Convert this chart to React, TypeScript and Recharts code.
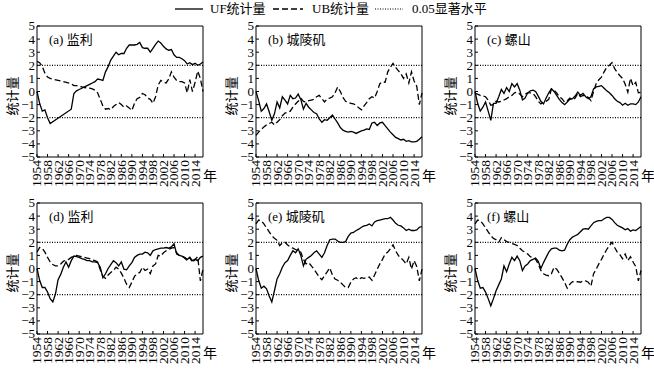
import { LineChart, Line, XAxis, YAxis, ReferenceLine, ReferenceArea } from "recharts";

const years = [
  1954, 1955, 1956, 1957, 1958, 1959, 1960, 1961,
  1962, 1963, 1964, 1965, 1966, 1967, 1968, 1969,
  1970, 1971, 1972, 1973, 1974, 1975, 1976, 1977,
  1978, 1979, 1980, 1981, 1982, 1983, 1984, 1985,
  1986, 1987, 1988, 1989, 1990, 1991, 1992, 1993,
  1994, 1995, 1996, 1997, 1998, 1999, 2000, 2001,
  2002, 2003, 2004, 2005, 2006, 2007, 2008, 2009,
  2010, 2011, 2012, 2013, 2014, 2015, 2016, 2017,
];
const yearTicks = [1954, 1958, 1962, 1966, 1970, 1974, 1978, 1982, 1986, 1990, 1994, 1998, 2002, 2006, 2010, 2014];
const valueTicks = [-5, -4, -3, -2, -1, 0, 1, 2, 3, 4, 5];

// (a) 监利 — no data 1960-1966
const ufA = [
  0, -0.9, -1.5, -1.4, -2.0, -2.45, null, null,
  null, null, null, null, null, -1.35, -0.15, 0.05,
  0.15, 0.25, 0.35, 0.45, 0.55, 0.65, 0.75, 0.95,
  0.9, 0.85, 1.5, 1.9, 2.4, 2.7, 3.0, 2.8,
  2.9, 2.9, 3.3, 3.55, 3.55, 3.55, 3.6, 3.75,
  3.35, 3.3, 3.3, 3.0, 3.3, 3.6, 3.85, 3.7,
  3.45, 3.25, 3.15, 3.2, 2.8, 2.6, 2.6, 2.5,
  2.35, 2.1, 2.2, 2.05, 2.15, 2.0, 2.1, 2.25,
];
const ubA = [
  2.3, 2.2, 1.9, 1.4, 1.1, 1.0, null, null,
  null, null, null, null, null, 0.6, 0.45, 0.45,
  0.4, 0.35, 0.3, 0.28, 0.25, 0.2, 0.1, -0.1,
  -0.6, -1.1, -1.35, -1.3, -1.4, -1.15, -1.0, -0.85,
  -1.0, -1.2, -1.1, -1.25, -1.45, -0.9, -0.55, -0.45,
  -0.15, -0.25, -0.5, -0.6, -0.9, -0.4, 0.5, 0.85,
  0.7, 0.65, 0.95, 1.5, 1.1, 0.85, 0.75, 0.75,
  0.65, -0.1, 0.9, 0.0, 0.7, 1.55, 1.0, 0.0,
];

// (b) 城陵矶
const ufB = [
  0, -0.7, -1.5, -1.3, -0.95, -1.55, -2.2, -1.7,
  -0.8, -1.25, -0.4, -0.65, -0.95, -0.3, -0.55, -0.5,
  -0.2, -0.6, -1.35, -0.9, -1.2, -1.4, -1.6, -1.7,
  -2.1, -2.35, -2.15, -2.2, -2.0, -1.8, -2.1, -2.4,
  -2.75, -2.95, -3.05, -3.1, -3.05, -3.1, -3.2, -3.1,
  -3.0, -2.95, -2.85, -2.9, -2.4, -2.35, -2.6, -2.4,
  -2.35, -2.6, -2.85, -3.1, -3.3, -3.5, -3.6, -3.7,
  -3.65, -3.8, -3.75, -3.85, -3.85, -3.8, -3.65, -3.45,
];
const ubB = [
  -3.35, -3.1, -2.9, -2.7, -2.55, -2.45, -2.35, -2.55,
  -2.35, -2.15, -1.85, -1.65, -1.6, -1.5, -1.2, -0.95,
  -0.75, -0.5, -0.75, -0.8, -0.7, -0.65, -0.6, -0.4,
  -0.3, -0.55, -0.8, -0.55, -0.5, -0.4, -0.1, 0.35,
  0.0, -0.45, -0.75, -0.85, -0.9, -0.95, -1.05, -1.25,
  -1.4, -1.1, -0.85, -0.55, -0.4, -0.5, 0.0, 0.6,
  0.75, 0.7, 1.5, 1.85, 2.15, 1.85, 1.6, 1.35,
  1.0, 1.35, 0.65, 1.5, 0.8, 0.4, -1.0, -0.1,
];

// (c) 螺山
const ufC = [
  0, -0.9, -1.5, -1.2, -0.8, -1.5, -2.2, -0.9,
  -0.9, -0.4, 0.15, -0.15, 0.3, 0.0, 0.6, 0.35,
  0.6, 0.1, -0.65, -0.5, -0.1, 0.05, 0.1, 0.0,
  -0.35, -0.75, -0.95, -0.5, -0.1, 0.2, 0.0, -0.3,
  -0.6, -0.85, -1.0, -0.8, -0.6, -0.55, -0.35, -0.05,
  -0.3, -0.15, -0.4, -0.55, -0.4, 0.2, 0.35, 0.4,
  0.45, 0.25, 0.05, -0.1, -0.3, -0.55, -0.75, -0.85,
  -1.05, -0.9, -1.05, -0.95, -0.95, -1.0, -0.8, -0.4,
];
const ubC = [
  -0.15, -0.2, -0.3, -0.35, -0.4, -0.65, -1.05, -1.0,
  -0.75, -0.8, -0.75, -0.65, -0.55, -0.4, -0.3, -0.1,
  -0.05, -0.2, -0.4, -0.2, -0.1, -0.1, -0.15, -0.4,
  -0.75, -0.95, -0.8, -0.75, -0.6, 0.2, 0.1, -0.1,
  -0.4, -0.55, -0.8, -0.7, -0.5, -0.65, -0.5, -0.15,
  -0.4, -0.3, -0.35, -0.45, -0.7, 0.0, 0.6, 0.9,
  1.1, 1.5, 1.85, 2.0, 2.2, 1.75, 1.45, 1.2,
  1.0, 0.55, -0.05, 1.0, 0.45, 0.7, -0.1, -0.05,
];

// (d) 监利
const ufD = [
  0, -0.9, -1.45, -1.45, -1.8, -2.3, -2.55, -1.95,
  -0.85, -0.45, 0.1, 0.5, 0.1, 0.6, 0.95, 0.9,
  0.85, 0.75, 0.7, 0.6, 0.6, 0.5, 0.5, 0.45,
  0.1, -0.7, -0.4, 0.0, 0.3, 0.6, 0.45, 0.2,
  0.5, -0.05, -0.1, 0.2, 0.45, 0.85, 1.0, 1.1,
  1.1, 1.25, 1.2, 1.0, 1.35, 1.45, 1.5, 1.55,
  1.55, 1.6, 1.55, 1.65, 1.9, 1.1, 1.0, 0.95,
  0.85, 0.7, 0.85, 0.6, 0.7, 0.6, 0.85, 0.95,
];
const ubD = [
  1.25, 1.6, 1.55, 1.25, 0.85, 0.5, 0.3, 0.2,
  0.2, 0.35, 0.55, 0.65, 0.7, 0.85, 0.95, 1.0,
  0.95, 0.9, 0.85, 0.8, 0.75, 0.65, 0.6, 0.5,
  -0.1, -0.6, -0.75, -0.5, -0.3, -0.15, 0.1, -0.05,
  -0.35, -0.75, -1.2, -1.45, -1.05, -0.6, -0.4, -0.3,
  0.1, -0.15, -0.05, -0.4, 0.2, 0.35, 1.0, 0.95,
  1.2, 1.35, 1.45, 1.55, 1.6, 1.2, 1.0, 0.95,
  0.8, 0.6, 0.85, 0.45, 0.7, 0.9, -0.95, -0.05,
];

// (e) 城陵矶
const ufE = [
  0, -0.9, -1.5, -1.35, -1.55, -2.1, -2.55, -1.7,
  -0.8, -0.4, 0.1, 0.45, 0.6, 1.0, 1.35, 1.2,
  1.5, 1.0, 0.2, 0.7, 0.85, 1.0, 1.2, 1.35,
  1.1, 0.85, 1.2, 1.75, 2.2, 2.25, 2.25, 2.1,
  2.0, 2.0, 2.05, 2.45, 2.7, 2.75, 2.9, 3.0,
  3.15, 3.25, 3.3, 3.4, 3.25, 3.55, 3.65, 3.7,
  3.75, 3.8, 3.8, 3.9, 3.7, 3.45, 3.3, 3.25,
  3.1, 2.9, 3.0, 2.9, 2.9, 2.95, 3.15, 3.2,
];
const ubE = [
  3.4, 3.7, 3.65, 3.4, 3.1, 2.8, 2.5, 2.3,
  2.15, 1.75, 1.95, 2.0, 1.8, 1.65, 1.55, 1.45,
  1.35, 1.25, 0.7, 0.35, 0.45, 0.2, -0.05, -0.35,
  -0.65, -0.85, -0.55, -0.25, 0.05, -0.5, -0.8, -0.9,
  -1.05, -1.25, -1.45, -1.45, -1.05, -0.8, -0.7, -0.85,
  -0.7, -0.75, -0.7, -0.65, -0.9, -0.5, -0.05, 0.35,
  0.7, 1.1, 1.25, 1.5, 1.8, 1.35, 1.0, 0.8,
  0.6, 0.35, 0.85, -0.05, 0.6, 0.15, -0.95, -0.05,
];

// (f) 螺山
const ufF = [
  0, -0.9, -1.5, -1.45, -1.8, -2.3, -2.85, -2.3,
  -1.7, -1.25, -0.8, 0.2, -0.25, 0.35, 0.85, 0.6,
  0.95, 0.6, -0.15, 0.2, 0.35, 0.6, 0.7, 0.8,
  0.55, 0.0, 0.45, 0.85, 1.25, 1.5, 1.55, 1.55,
  1.4, 1.35, 1.4, 1.85, 2.2, 2.4, 2.5, 2.6,
  2.8, 3.0, 3.05, 3.0, 3.25, 3.5, 3.6, 3.65,
  3.65, 3.8, 3.9, 3.9, 3.75, 3.5, 3.3, 3.2,
  3.1, 2.95, 3.05, 2.85, 2.95, 2.9, 3.05, 3.2,
];
const ubF = [
  3.4, 3.7, 3.65, 3.4, 3.1, 2.8, 2.5, 2.3,
  2.2, 2.0, 2.35, 2.2, 2.05, 2.0, 1.9, 1.85,
  1.75, 1.55, 1.35, 1.25, 1.1, 0.9, 0.85, 0.7,
  0.35, -0.15, -0.4, -0.5, -0.55, -0.4, 0.1, -0.05,
  -0.35, -0.7, -1.05, -1.5, -1.2, -1.0, -1.05, -1.0,
  -1.05, -0.95, -0.95, -1.05, -1.35, -0.4, -0.05, 0.35,
  0.7, 1.1, 1.45, 1.75, 2.0, 1.6, 1.25, 1.05,
  0.75, 1.1, 0.6, 0.9, 0.5, 0.15, -0.95, -0.15,
];

const FONT = "'Liberation Serif', 'Noto Sans CJK SC', serif";
const PW = 166; // plot width
const PH = 131; // plot height
const YW = 35;
const MT = 10;

const panels = [
  { title: "(a) 监利", uf: ufA, ub: ubA, left: 37, top: 26 },
  { title: "(b) 城陵矶", uf: ufB, ub: ubB, left: 256, top: 26 },
  { title: "(c) 螺山", uf: ufC, ub: ubC, left: 475, top: 26 },
  { title: "(d) 监利", uf: ufD, ub: ubD, left: 37, top: 203 },
  { title: "(e) 城陵矶", uf: ufE, ub: ubE, left: 256, top: 203 },
  { title: "(f) 螺山", uf: ufF, ub: ubF, left: 475, top: 203 },
];

function YearTick(props: any) {
  const { x, y, payload } = props;
  return (
    <g>
      <line x1={x} y1={y} x2={x} y2={y - 3} stroke="#000" />
      <text
        x={x}
        y={y + 3}
        transform={`rotate(-90 ${x} ${y + 3})`}
        textAnchor="end"
        dy="0.33em"
        fontSize={13.5}
        fontFamily={FONT}
        fill="#000"
      >
        {payload.value}
      </text>
    </g>
  );
}

function ValueTick(props: any) {
  const { x, y, payload } = props;
  const v = payload.value;
  const label = v < 0 ? "\u2212" + Math.abs(v) : String(v);
  return (
    <g>
      <line x1={x} y1={y} x2={x + 3} y2={y} stroke="#000" />
      <text x={x - 2} y={y} textAnchor="end" dy="0.34em" fontSize={13} fontFamily={FONT} fill="#000">
        {label}
      </text>
    </g>
  );
}

function Panel({ title, uf, ub, left, top }: any) {
  const data = years.map((year, i) => ({ year, uf: uf[i], ub: ub[i] }));
  return (
    <>
      <div style={{ position: "absolute", left: left - YW, top: top - MT }}>
        <LineChart
          width={YW + PW + 10}
          height={MT + PH + 40}
          data={data}
          margin={{ top: MT, right: 10, bottom: 0, left: 0 }}
        >
          <XAxis
            dataKey="year"
            type="number"
            domain={[1954, 2017]}
            ticks={yearTicks}
            interval={0}
            height={40}
            tickSize={0}
            tickMargin={0}
            axisLine={false}
            tick={(p: any) => <YearTick {...p} />}
          />
          <YAxis
            type="number"
            domain={[-5, 5]}
            ticks={valueTicks}
            interval={0}
            width={YW}
            tickSize={0}
            tickMargin={0}
            axisLine={false}
            tick={(p: any) => <ValueTick {...p} />}
          />
          <ReferenceArea x1={1954} x2={2017} y1={-5} y2={5} fill="none" fillOpacity={0} stroke="#000" strokeWidth={1} />
          <ReferenceLine y={2} stroke="#000" strokeWidth={1.2} strokeDasharray="1 1.5" />
          <ReferenceLine y={-2} stroke="#000" strokeWidth={1.2} strokeDasharray="1 1.5" />
          <Line dataKey="uf" stroke="#000" strokeWidth={1.3} dot={false} connectNulls isAnimationActive={false} />
          <Line dataKey="ub" stroke="#000" strokeWidth={1.3} strokeDasharray="6 3" dot={false} connectNulls isAnimationActive={false} />
        </LineChart>
      </div>
      <div style={{ position: "absolute", left: left + 12, top: top + 7, fontSize: 13, lineHeight: "13px", whiteSpace: "nowrap" }}>
        {title}
      </div>
      <div
        style={{
          position: "absolute",
          left: left - 24 - 20,
          top: top + 70 - 7,
          width: 40,
          textAlign: "center",
          fontSize: 13,
          lineHeight: "14px",
          transform: "rotate(-90deg)",
        }}
      >
        统计量
      </div>
      <div style={{ position: "absolute", left: left + PW, top: top + PH + 13, fontSize: 14, lineHeight: "14px" }}>年</div>
    </>
  );
}

export default function App() {
  return (
    <div
      style={{
        position: "absolute",
        left: 0,
        top: 0,
        width: 654,
        height: 371,
        background: "#fff",
        fontFamily: FONT,
        color: "#000",
        overflow: "hidden",
      }}
    >
      <svg style={{ position: "absolute", left: 0, top: 0 }} width={654} height={20}>
        <line x1={175} y1={9} x2={203} y2={9} stroke="#000" strokeWidth={1.3} />
        <line x1={273} y1={9} x2={303} y2={9} stroke="#000" strokeWidth={1.3} strokeDasharray="6 3" />
        <line x1={375} y1={9} x2={403} y2={9} stroke="#000" strokeWidth={1.2} strokeDasharray="1 1.5" />
      </svg>
      <div style={{ position: "absolute", left: 210, top: 2, fontSize: 13, lineHeight: "14px" }}>UF统计量</div>
      <div style={{ position: "absolute", left: 312, top: 2, fontSize: 13, lineHeight: "14px" }}>UB统计量</div>
      <div style={{ position: "absolute", left: 412, top: 2, fontSize: 13, lineHeight: "14px" }}>0.05显著水平</div>
      {panels.map((p) => (
        <Panel key={p.title + p.left + p.top} {...p} />
      ))}
    </div>
  );
}
